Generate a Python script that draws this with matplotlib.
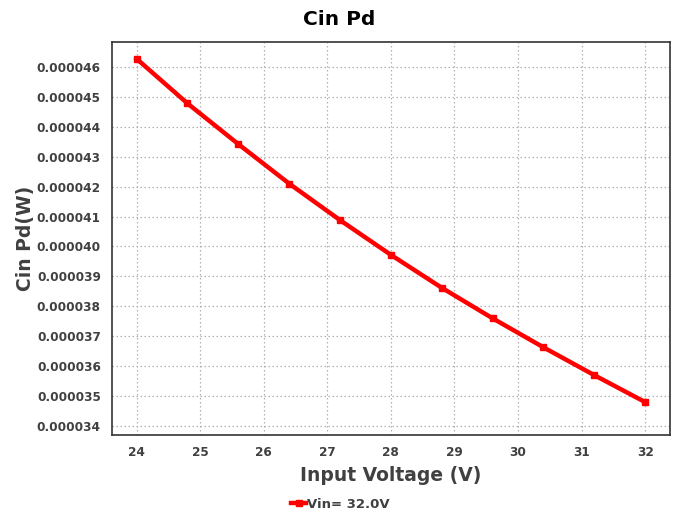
import matplotlib
matplotlib.use("Agg")
import matplotlib.pyplot as plt
import numpy as np

plt.rcParams['font.family'] = ['DejaVu Sans']
plt.rcParams['font.weight'] = 'bold'

# data
vin = [24.0, 24.8, 25.6, 26.4, 27.2, 28.0, 28.8, 29.6, 30.4, 31.2, 32.0]
pd_w = [46.27, 44.78, 43.42, 42.10, 40.88, 39.72, 38.62, 37.60, 36.63, 35.70, 34.80]
pd_w = [v * 1e-6 for v in pd_w]

xticks = [24, 25, 26, 27, 28, 29, 30, 31, 32]
yticks = [v * 1e-6 for v in range(34, 47)]

fig = plt.figure(figsize=(6.78, 5.16), dpi=100)
ax = fig.add_axes([0.165, 0.157, 0.823, 0.762])

ax.plot(vin, pd_w, color="#ff0000", linewidth=3.2, marker="s", markersize=5,
        label="Vin= 32.0V")

ax.set_xlim(23.61, 32.39)
ax.set_ylim(33.7e-6, 46.84e-6)
ax.set_xticks(xticks)
ax.set_yticks(yticks)
ax.set_yticklabels(["%.6f" % v for v in yticks])
ax.tick_params(length=0, labelsize=8.7, colors="#404040", pad=8)
for lab in ax.get_xticklabels() + ax.get_yticklabels():
    lab.set_fontweight("bold")

ax.grid(True, linestyle=(0, (1.2, 2)), color="#b0b0b0", linewidth=0.9)
for s in ax.spines.values():
    s.set_color("#333333")
    s.set_linewidth(1.2)

fig.text(0.5, 0.962, "Cin Pd", fontsize=14.5, fontweight="bold", ha="center", va="center")
ax.set_xlabel("Input Voltage (V)", fontsize=13.5, fontweight="bold", color="#404040", labelpad=5)
ax.set_ylabel("Cin Pd(W)", fontsize=13.5, fontweight="bold", color="#404040", labelpad=1)

leg = ax.legend(loc="upper center", bbox_to_anchor=(0.41, -0.13), frameon=False,
                fontsize=9.5, handlelength=1.1, handletextpad=0.1)
for t in leg.get_texts():
    t.set_color("#404040")

fig.savefig("out.png", dpi=100)
